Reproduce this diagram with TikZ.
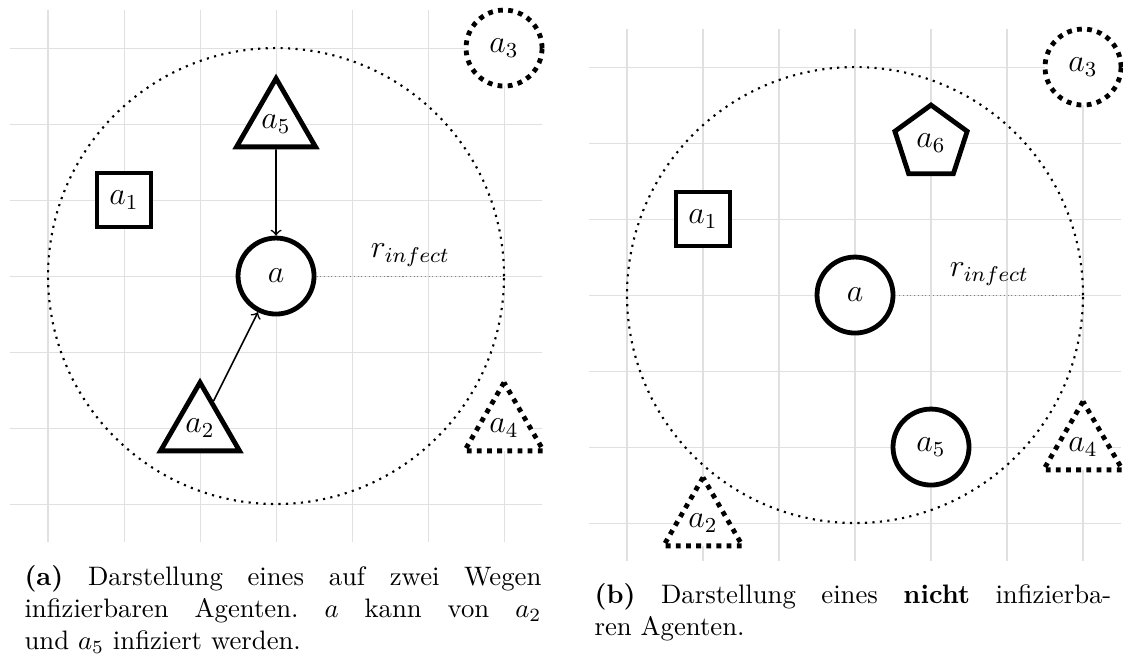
\documentclass[tikz,border=0pt]{standalone}
\usetikzlibrary{shapes.geometric}
\begin{document}
\begin{tikzpicture}[
  gridline/.style={draw=black!12, line width=0.4pt},
  agent/.style={draw, line width=1.8pt, fill=white, inner sep=0pt, font=\large},
  circ/.style={agent, circle, minimum size=1cm},
  sq/.style={agent, rectangle, minimum size=0.71cm},
  tri/.style={agent, regular polygon, regular polygon sides=3, minimum size=1.2cm},
  pent/.style={agent, regular polygon, regular polygon sides=5, minimum size=1cm},
  outside/.style={dotted},
  infectrange/.style={thick, dotted},
  radiusline/.style={densely dotted, gray},
  radiuslabel/.style={above, text=black, font=\large},
  infects/.style={semithick, ->},
  captext/.style={text width=6.8cm, align=justify, inner sep=0pt, font=\frenchspacing}
]
\useasboundingbox (0,0) rectangle (14.776,-8.645);

% ---------------- left panel ----------------
\begin{scope}[shift={(3.632,-3.632)}]
  \foreach \i in {-3,...,3} {
    \draw[gridline] (\i,-3.5) -- (\i,3.5);
    \draw[gridline] (-3.5,\i) -- (3.5,\i);
  }
  \coordinate (Lc) at (0,0);
  \draw[infectrange] (Lc) circle[radius=3];
  \node[circ] (La) at (0,0) {$a$};
  \node[sq] (La1) at (-2,1) {$a_1$};
  \node[tri] (La2) at (-1,-2) {$a_2$};
  \node[circ, outside] (La3) at (3,3) {$a_3$};
  \node[tri, outside] (La4) at (3,-2) {$a_4$};
  \node[tri] (La5) at (0,2) {$a_5$};
  \coordinate (Lr) at (3,0);
  \draw[radiusline] (La) -- node[radiuslabel] (Llab) {$r_{infect}$} (Lr);
  \draw[infects] (La5) -- (La);
  \draw[infects] (La2) -- (La);
\end{scope}

% ---------------- right panel ----------------
\begin{scope}[shift={(11.25,-3.882)}]
  \foreach \i in {-3,...,3} {
    \draw[gridline] (\i,-3.5) -- (\i,3.5);
    \draw[gridline] (-3.5,\i) -- (3.5,\i);
  }
  \coordinate (Rc) at (0,0);
  \draw[infectrange] (Rc) circle[radius=3];
  \node[circ] (Ra) at (0,0) {$a$};
  \node[sq] (Ra1) at (-2,1) {$a_1$};
  \node[tri, outside] (Ra2) at (-2,-3) {$a_2$};
  \node[circ, outside] (Ra3) at (3,3) {$a_3$};
  \node[tri, outside] (Ra4) at (3,-2) {$a_4$};
  \node[circ] (Ra5) at (1,-2) {$a_5$};
  \node[pent] (Ra6) at (1,2) {$a_6$};
  \coordinate (Rr) at (3,0);
  \draw[radiusline] (Ra) -- node[radiuslabel] (Rlab) {$r_{infect}$} (Rr);
\end{scope}

% ---------------- captions ----------------
\node[captext, anchor=base west] (capL) at (0.316,-7.697)
  {\textbf{(a)} Darstellung eines auf zwei Wegen\linebreak infizierbaren Agenten. $a$ kann von $a_2$\linebreak und $a_5$ infiziert werden.};
\node[captext, anchor=base west] (capR) at (7.816,-7.934)
  {\textbf{(b)} Darstellung eines \textbf{nicht} infizierba-\linebreak ren Agenten.};
\end{tikzpicture}
\end{document}
